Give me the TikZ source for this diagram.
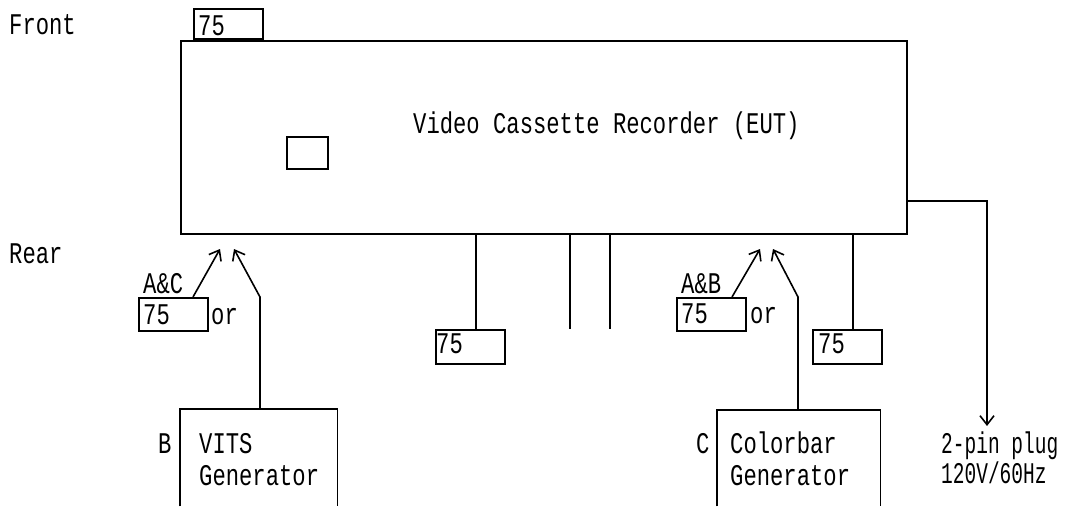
\documentclass[tikz,border=0pt]{standalone}
\usepackage{fontspec}
\setmainfont{Liberation Mono}[FakeStretch=0.74]
\newfontfamily\narrowmono{Liberation Mono}[FakeStretch=0.65]
\usetikzlibrary{arrows.meta}
\begin{document}
\begin{tikzpicture}[x=1pt,y=-1pt,
  lw/.style={line width=1.6pt},
  box/.style={draw,line width=1.6pt,inner sep=0pt},
  ohm/.style={box,minimum width=69pt,minimum height=33pt},
  txt/.style={anchor=base west,inner sep=0pt,font=\fontsize{30}{36}\selectfont},
  ntxt/.style={anchor=base west,inner sep=0pt,font=\narrowmono\fontsize{30}{36}\selectfont},
  arr/.style={lw,-{Straight Barb[length=9pt,width=14pt,line width=1.6pt]}}]
\useasboundingbox (0,0) rectangle (1070,506);
% main box
\node[box,minimum width=726pt,minimum height=193pt,anchor=north west] (vcr) at (180,40) {};
\node[txt] (title) at (413,133) {Video Cassette Recorder (EUT)};
\node[box,minimum width=41pt,minimum height=32pt] (sq) at (307.5,153) {};
\node[ohm,anchor=south west,minimum height=30pt] (o0) at (193,40) {};
\node[txt] at (198,35) {75};
\node[txt] (front) at (9,34) {Front};
\node[txt] (rear) at (9,263) {Rear};
% left group
\coordinate (t1) at (220,249);
\coordinate (t2) at (234,249);
\node[ohm,anchor=north west] (o1) at (138,297) {};
\node[txt] at (143,324) {75};
\node[txt] (or1) at (211,324) {or};
\node[txt] (ac) at (143,293) {A\&C};
\draw[arr] (o1.north west -| 193,0) -- (t1);
\node[anchor=north west,inner sep=0pt,minimum width=157pt,minimum height=97pt] (vits) at (180,409) {};
\draw[lw] (vits.south west) -- (vits.north west) -- (vits.north east) -- (vits.south east);
\node[txt] at (199,453) {VITS};
\node[txt] at (199,485) {Generator};
\node[txt] (lb) at (158,453) {B};
\coordinate (k1) at (260,297);
\draw[arr] (vits.north -| k1) -- (k1) -- (t2);
% middle
\node[ohm,anchor=north west,minimum height=34pt] (o2) at (435,329) {};
\node[txt] at (436,353) {75};
\draw[lw] (vcr.south -| 476,0) -- (o2.north -| 476,0);
\coordinate (m1) at (570,329);
\coordinate (m2) at (610,329);
\draw[lw] (vcr.south -| m1) -- (m1);
\draw[lw] (vcr.south -| m2) -- (m2);
% right group
\coordinate (t3) at (760,249);
\coordinate (t4) at (773,249);
\node[ohm,anchor=north west] (o3) at (676,297) {};
\node[txt] at (681,323) {75};
\node[txt] (or2) at (750,323) {or};
\node[txt] (ab) at (681,293) {A\&B};
\draw[arr] (o3.north west -| 732,0) -- (t3);
\node[anchor=north west,inner sep=0pt,minimum width=163pt,minimum height=96pt] (cb) at (717,410) {};
\draw[lw] (cb.south west) -- (cb.north west) -- (cb.north east) -- (cb.south east);
\node[txt] at (730,453) {Colorbar};
\node[txt] at (730,485) {Generator};
\node[txt] (lc) at (696,453) {C};
\coordinate (k2) at (798,297);
\draw[arr] (cb.north -| k2) -- (k2) -- (t4);
\node[ohm,anchor=north west,minimum height=34pt] (o4) at (812,329) {};
\node[txt] at (818,353) {75};
\draw[lw] (vcr.south -| 853,0) -- (o4.north -| 853,0);
% power
\coordinate (p1) at (987,201);
\coordinate (p2) at (987,426);
\draw[arr] (vcr.east |- p1) -- (p1) -- (p2);
\node[ntxt] (plug) at (941,453) {2-pin plug};
\node[ntxt] (volt) at (941,483) {120V/60Hz};
\end{tikzpicture}
\end{document}
